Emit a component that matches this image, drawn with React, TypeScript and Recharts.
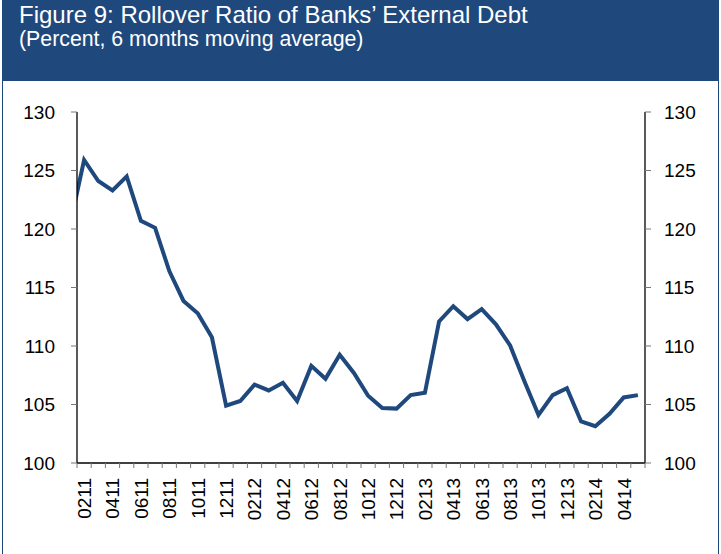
import React from "react";
import { LineChart, Line, XAxis, YAxis } from "recharts";

// month codes (MMYY); the first one only feeds the lead-in segment at the left edge
const months = [
  "0111", "0211", "0311", "0411", "0511", "0611", "0711", "0811", "0911", "1011", "1111", "1211",
  "0112", "0212", "0312", "0412", "0512", "0612", "0712", "0812", "0912", "1012", "1112", "1212",
  "0113", "0213", "0313", "0413", "0513", "0613", "0713", "0813", "0913", "1013", "1113", "1213",
  "0114", "0214", "0314", "0414", "0514",
];

// rollover ratio, percent, 6 months moving average
const rolloverRatio = [
  120.3, 125.9, 124.1, 123.3, 124.5, 120.7, 120.1, 116.4, 113.85, 112.8, 110.75, 104.9,
  105.3, 106.7, 106.2, 106.85, 105.3, 108.3, 107.2, 109.25, 107.7, 105.75, 104.7, 104.65,
  105.8, 106.0, 112.1, 113.4, 112.3, 113.15, 111.85, 110.05, 107.0, 104.1, 105.8, 106.4,
  103.55, 103.15, 104.2, 105.6, 105.8,
];

const yTicks = [100, 105, 110, 115, 120, 125, 130];

const data = months.map((m, i) => ({ i, month: m, value: rolloverRatio[i] }));

// tick marks sit between months, labels on every second month
const xTicks: number[] = [];
for (let i = 1; i < months.length; i++) {
  xTicks.push(i - 0.5, i);
}
xTicks.push(months.length - 0.5);

const BLUE = "#1F497D";
const FONT = "Arial, 'Liberation Sans', sans-serif";

function MonthTick(props: any) {
  const { x, y, payload } = props;
  const v = payload.value as number;
  if (v % 1 !== 0) {
    return <line x1={x} y1={y} x2={x} y2={y + 5} stroke="#777" strokeWidth={1} />;
  }
  if (v % 2 === 0) return <g />;
  const ty = y + 15;
  return (
    <text
      x={x}
      y={ty}
      dy="0.36em"
      textAnchor="end"
      transform={`rotate(-90, ${x}, ${ty})`}
      fill="#000"
      fontSize={19}
      fontFamily={FONT}
    >
      {months[v]}
    </text>
  );
}

export default function App() {
  return (
    <div style={{ position: "absolute", left: 0, top: 0, width: 721, height: 554, background: "#fff", overflow: "hidden" }}>
      <div style={{ position: "absolute", left: 2, top: 0, width: 717, height: 560, background: BLUE }} />
      <div style={{ position: "absolute", left: 3, top: 81, width: 715, height: 480, background: "#fff" }} />
      <div
        style={{
          position: "absolute",
          left: 19,
          top: 1,
          color: "#fff",
          fontFamily: FONT,
          fontSize: 24,
          lineHeight: "28px",
          whiteSpace: "nowrap",
        }}
      >
        Figure 9: Rollover Ratio of Banks’ External Debt
      </div>
      <div
        style={{
          position: "absolute",
          left: 19,
          top: 27,
          color: "#fff",
          fontFamily: FONT,
          fontSize: 21.3,
          lineHeight: "24px",
          whiteSpace: "nowrap",
        }}
      >
        (Percent, 6 months moving average)
      </div>
      <div style={{ position: "absolute", left: 0, top: 0 }}>
        <LineChart
          width={721}
          height={554}
          data={data}
          margin={{ top: 112, right: 10, bottom: 31, left: 0 }}
          style={{ fontFamily: FONT }}
        >
          <XAxis
            dataKey="i"
            type="number"
            domain={[0.5, months.length - 0.5]}
            allowDataOverflow
            ticks={xTicks}
            interval={0}
            tickSize={0}
            tickMargin={0}
            tickLine={false}
            tick={<MonthTick />}
            axisLine={{ stroke: "#000", strokeWidth: 1.3 }}
            height={60}
          />
          <YAxis
            yAxisId="left"
            domain={[100, 130]}
            allowDataOverflow
            ticks={yTicks}
            interval={0}
            width={77}
            tickSize={6}
            tickMargin={16}
            tickLine={{ stroke: "#777" }}
            axisLine={{ stroke: "#000", strokeWidth: 1.3 }}
            tick={{ fill: "#000", fontSize: 19, fontFamily: FONT }}
          />
          <YAxis
            yAxisId="right"
            orientation="right"
            domain={[100, 130]}
            allowDataOverflow
            ticks={yTicks}
            interval={0}
            width={66}
            tickSize={6}
            tickMargin={13}
            tickLine={{ stroke: "#777" }}
            axisLine={{ stroke: "#000", strokeWidth: 1.3 }}
            tick={{ fill: "#000", fontSize: 19, fontFamily: FONT }}
          />
          <Line
            yAxisId="left"
            type="linear"
            dataKey="value"
            stroke={BLUE}
            strokeWidth={4}
            dot={false}
            activeDot={false}
            isAnimationActive={false}
          />
        </LineChart>
      </div>
    </div>
  );
}
